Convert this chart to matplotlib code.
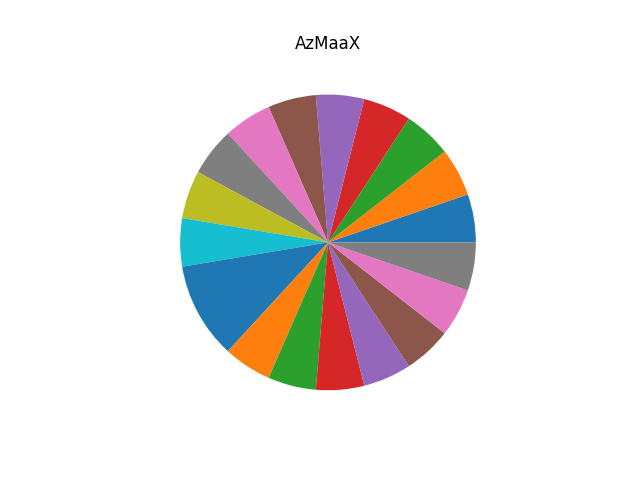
import matplotlib
matplotlib.use("Agg")
import matplotlib.pyplot as plt

# slice sizes (18 slices, one double-width)
sizes = [1, 1, 1, 1, 1, 1, 1, 1, 1, 1, 2, 1, 1, 1, 1, 1, 1, 1]

fig, ax = plt.subplots(figsize=(6.4, 4.8), dpi=100)
ax.pie(sizes)
ax.set_title("AzMaaX")
fig.savefig("out.png")
